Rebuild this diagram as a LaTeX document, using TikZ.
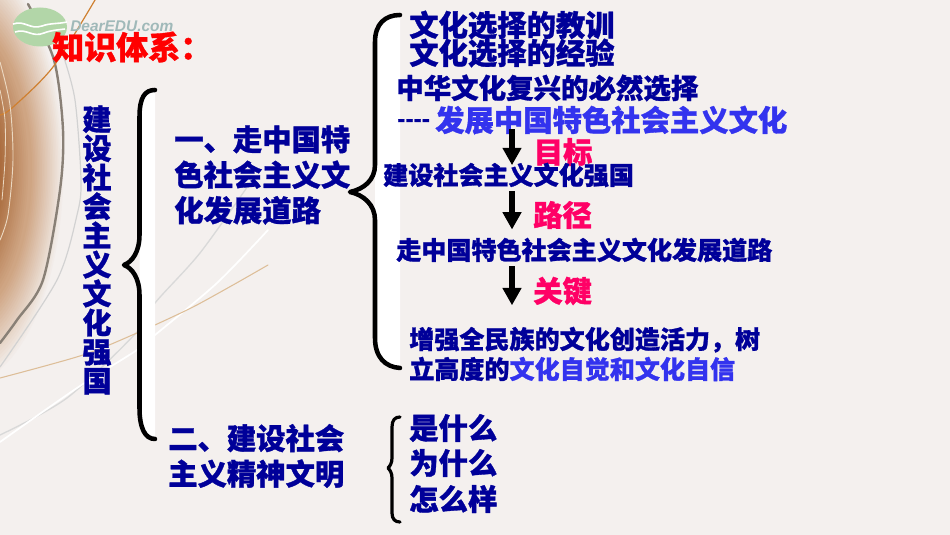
\documentclass[tikz,border=0pt]{standalone}
\usepackage{fontspec}
\usetikzlibrary{arrows.meta}
\newfontfamily\cjk{Noto Sans CJK SC}[BoldFeatures={FakeBold=1.1}]
\newfontfamily\logofont{Liberation Sans}
\definecolor{paper}{HTML}{F4F0EE}
\definecolor{navy}{HTML}{000099}
\definecolor{bright}{HTML}{3333EE}
\definecolor{rose}{HTML}{FF0066}
\definecolor{leaf}{HTML}{B2D6A8}
\definecolor{tan}{HTML}{DDBE98}
\definecolor{glowa}{HTML}{A05C2A}
\definecolor{glowc}{HTML}{CFA583}
\tikzset{
  big/.style={anchor=west,inner sep=0pt,text=navy,align=left,font=\cjk\bfseries\fontsize{22}{26.6}\selectfont},
  small/.style={big,font=\cjk\bfseries\fontsize{18.8}{22.5}\selectfont},
  brace/.style={line width=3.4pt,line cap=round,line join=round},
  stemarrow/.style={line width=5pt,-{Triangle[length=13pt,width=13.5pt]}},
  arc/.style={smooth,line cap=round}
}
\begin{document}
\begin{tikzpicture}[x=0.75pt,y=-0.75pt]
  \useasboundingbox (0,0) rectangle (950,535);
  \fill[paper] (0,0) rectangle (950,535);
  \begin{scope}
    \clip (0,0) rectangle (950,535);
    \foreach \m in {0,5,...,100} {
      \fill[glowc!\m!paper] (-40,170) ellipse ({105-0.33*\m} and {220-0.33*2.1*\m});
    }
    \foreach \m in {5,10,...,100} {
      \fill[glowa!\m!glowc] (-40,170) ellipse ({70-0.37*\m} and {150.7-0.37*2.1*\m});
    }
    \draw[arc,color=gray!85!brown,line width=1.8pt] plot coordinates {(28,4) (54,60) (63,130) (60,190) (43,280) (17,320) (0,343)};
    \draw[arc,color=gray!35,line width=0.9pt] plot coordinates {(63,55) (75,100) (81,180) (77,215) (57,280) (0,367)};
    \draw[arc,color=gray!30,line width=1pt] plot coordinates {(250,183) (200,253) (155,303) (137,332) (67,398) (0,435)};
    \draw[arc,color=white,line width=1.3pt] plot coordinates {(268,230) (217,283) (155,335) (137,350) (77,388) (0,442)};
    \draw[arc,color=tan,line width=0.8pt] plot coordinates {(268,265) (233,285) (193,307) (155,325) (137,333) (83,355) (0,378)};
    \draw[arc,color=brown!75!orange,line width=0.9pt] plot coordinates {(95,0) (53,67) (12,108) (0,115)};
    \draw[arc,color=tan!60!white,line width=0.7pt] plot coordinates {(0,62) (10,105) (13,160) (8,215) (0,240)};
    \draw[arc,color=tan!60!white,line width=0.6pt] plot coordinates {(0,90) (5,120) (5,160) (2,200)};
  \end{scope}
  \fill[leaf] (40,27) ellipse (27 and 19.5);
  \draw[white,line width=1.2pt] (13,24) .. controls (25,20) and (30,30) .. (42,26) .. controls (50,23) and (58,24) .. (67,22);
  \draw[white,line width=1.2pt] (15,32) .. controls (27,28) and (32,38) .. (44,33) .. controls (52,30) and (58,30) .. (65,29);
  \draw (70,26) node (logo) [anchor=west,inner sep=0pt,text=teal!35!gray!55!white,font=\logofont\bfseries\itshape\fontsize{11.6}{12}\selectfont] {DearEDU.com};
  \fill[white] (155,90) .. controls (145,90) and (139.5,97) .. (139.5,117) -- (139.5,408) .. controls (139.5,428) and (145,439) .. (155,439) -- cycle;
  \fill[white] (400,15) .. controls (385,15) and (375,24) .. (375,42) -- (375,338) .. controls (375,357) and (385,367) .. (400,368) -- cycle;
  \draw[brace] (155,90) .. controls (145,90) and (139.5,97) .. (139.5,117) -- (139.5,235) .. controls (139.5,252) and (132,262) .. (124,265) .. controls (132,268) and (139.5,278) .. (139.5,295) -- (139.5,408) .. controls (139.5,428) and (145,439) .. (155,439);
  \draw[brace] (400,15) .. controls (385,15) and (375,24) .. (375,42) -- (375,165) .. controls (375,180) and (364,189) .. (350,192) .. controls (364,195) and (375,205) .. (375,220) -- (375,338) .. controls (375,357) and (385,367) .. (400,368);
  \draw[brace,line width=2.4pt] (400,417) .. controls (395,417) and (392,420) .. (392,427) -- (392,458) .. controls (392,463) and (390,466) .. (388,468) .. controls (390,470) and (392,473) .. (392,478) -- (392,513) .. controls (392,519) and (395,522) .. (400,522);
  \draw (52,47) node (title) [big,text=red,font=\cjk\bfseries\fontsize{24}{26}\selectfont] {知识体系：};
  \draw (97,250) node (root) [big,anchor=center,align=center,font=\cjk\bfseries\fontsize{21.8}{21.8}\selectfont] {建\\设\\社\\会\\主\\义\\文\\化\\强\\国};
  \draw (174,175) node (partone) [big] {一、走中国特\\色社会主义文\\化发展道路};
  \draw (168,456) node (parttwo) [big] {二、建设社会\\主义精神文明};
  \draw (409,25) node (lesson) [big] {文化选择的教训};
  \draw (409,53) node (gain) [big] {文化选择的经验};
  \draw (396,88) node (revive) [big,font=\cjk\bfseries\fontsize{20.6}{24}\selectfont] {中华文化复兴的必然选择};
  \draw (397,123) node (dashes) [small,font=\cjk\bfseries\fontsize{16}{20}\selectfont] {----};
  \draw (435,120) node (develop) [big,text=bright] {发展中国特色社会主义文化};
  \draw (533.5,152) node (goal) [big,text=rose] {目标};
  \draw (533,215) node (way) [big,text=rose] {路径};
  \draw (533,291) node (key) [big,text=rose] {关键};
  \draw (383,175) node (nation) [small] {建设社会主义文化强国};
  \draw (396,250) node (road) [small] {走中国特色社会主义文化发展道路};
  \draw (409,354) node (vigor) [small] {增强全民族的文化创造活力，树\\立高度的{\color{bright}文化自觉和文化自信}};
  \draw (409,428) node (what) [big] {是什么};
  \draw (409,463) node (why) [big] {为什么};
  \draw (409,499) node (how) [big] {怎么样};
  \coordinate (axis) at (512,0);
  \draw[stemarrow,shorten <=-4pt,shorten >=-2pt] (develop.south -| axis) -- (nation.north -| axis);
  \draw[stemarrow,shorten <=3pt,shorten >=6pt] (nation.south -| axis) -- (road.north -| axis);
  \draw[stemarrow,shorten <=3pt,shorten >=16pt] (road.south -| axis) -- (vigor.north -| axis);
\end{tikzpicture}
\end{document}
